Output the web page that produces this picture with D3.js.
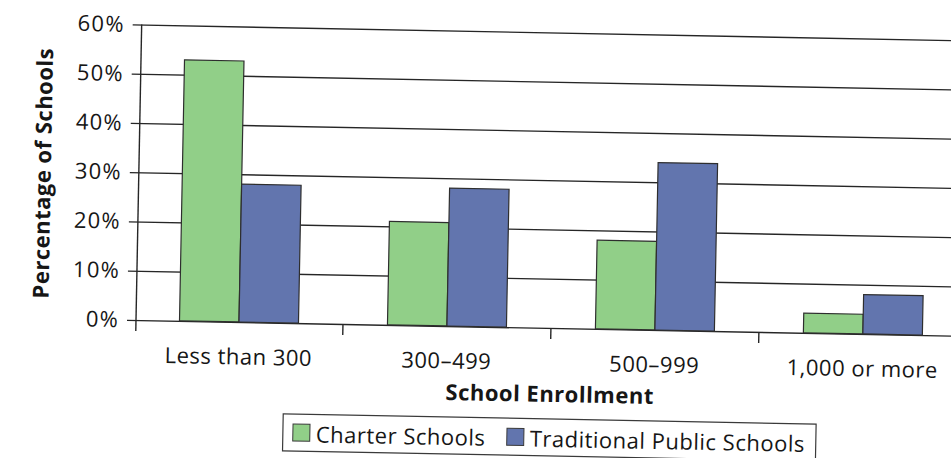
<!DOCTYPE html>
<html>
<head>
<meta charset="utf-8">
<script src="https://cdn.jsdelivr.net/npm/d3@7/dist/d3.min.js"></script>
<style>
  html, body { margin: 0; padding: 0; background: #fff; }
  svg { display: block; }
  text { font-family: "Open Sans", "Noto Sans", sans-serif; fill: #161616; font-size: 22px; letter-spacing: 0.5px; }
</style>
</head>
<body>
<svg id="chart" width="951" height="458"></svg>
<script>
// Enrollment size bands
const categories = ["Less than 300", "300\u2013499", "500\u2013999", "1,000 or more"];
// Series names
const seriesNames = ["Charter Schools", "Traditional Public Schools"];
// Percentage of schools in each band
const charterValues = [53, 21, 18, 4];
const traditionalValues = [28, 28, 34, 8];
// Y axis ticks (percent)
const yTicks = [0, 10, 20, 30, 40, 50, 60];

const colors = { "Charter Schools": "#91cf88", "Traditional Public Schools": "#6275ae" };
const ink = "#262626";

const rows = categories.map((c, i) => ({
  category: c,
  values: [
    { key: seriesNames[0], value: charterValues[i] },
    { key: seriesNames[1], value: traditionalValues[i] }
  ]
}));

const svg = d3.select("#chart");
// whole figure sits at a slight tilt
const g = svg.append("g").attr("transform", "rotate(1.1, 136, 320)");

const x0 = d3.scaleBand().domain(categories).range([135, 967]).padding(0);
const x1 = d3.scaleBand().domain(seriesNames).range([0, x0.bandwidth()])
  .paddingInner(0).paddingOuter(0.748);
const y = d3.scaleLinear().domain([0, 60]).range([320, 24.5]);

// horizontal gridlines with tick labels
const yAxis = d3.axisLeft(y).tickValues(yTicks)
  .tickFormat(d => d + "%")
  .tickSize(-(975 - 127)).tickPadding(6);
const ya = g.append("g").attr("transform", "translate(127,0)").call(yAxis);
ya.select(".domain").remove();
ya.attr("font-family", null).attr("font-size", null);
ya.selectAll(".tick line").attr("stroke", ink).attr("stroke-width", 1.4);
ya.selectAll(".tick text")
  .attr("x", -8)
  .style("letter-spacing", "1.2px")
  .attr("fill", "#161616");

// vertical axis line
g.append("line")
  .attr("x1", 136).attr("x2", 136)
  .attr("y1", y(60)).attr("y2", y(0) + 11)
  .attr("stroke", ink).attr("stroke-width", 1.4);

// category axis: ticks between bands, labels centred
const xAxis = d3.axisBottom(x0).tickSize(0).tickPadding(0);
const xa = g.append("g").attr("transform", `translate(0,${y(0)})`).call(xAxis);
xa.select(".domain").remove();
xa.attr("font-family", null).attr("font-size", null);
xa.selectAll(".tick text")
  .attr("y", 42.5)
  .attr("dy", "0")
  .attr("fill", "#161616");

g.selectAll(".sep")
  .data(categories.slice(1))
  .join("line")
  .attr("class", "sep")
  .attr("x1", d => x0(d)).attr("x2", d => x0(d))
  .attr("y1", y(0)).attr("y2", y(0) + 11)
  .attr("stroke", ink).attr("stroke-width", 1.4);

// bars
const groups = g.selectAll(".grp")
  .data(rows)
  .join("g")
  .attr("class", "grp")
  .attr("transform", d => `translate(${x0(d.category)},0)`);
groups.selectAll("rect")
  .data(d => d.values)
  .join("rect")
  .attr("x", d => x1(d.key))
  .attr("width", x1.bandwidth())
  .attr("y", d => y(d.value))
  .attr("height", d => y(0) - y(d.value))
  .attr("fill", d => colors[d.key])
  .attr("stroke", "#2e2e2e")
  .attr("stroke-width", 1.2);

// axis titles
g.append("text")
  .attr("x", 551).attr("y", 394)
  .attr("text-anchor", "middle")
  .style("font-weight", "bold")
  .text("School Enrollment");
g.append("text")
  .attr("transform", "translate(48,175) rotate(-90)")
  .attr("text-anchor", "middle")
  .style("font-weight", "bold")
  .text("Percentage of Schools");

// legend
const leg = g.append("g");
leg.append("rect")
  .attr("x", 285).attr("y", 411).attr("width", 533).attr("height", 37)
  .attr("fill", "#fff").attr("stroke", "#3a3a3a").attr("stroke-width", 1.2);
const legX = { "Charter Schools": 295, "Traditional Public Schools": 509 };
seriesNames.forEach(name => {
  leg.append("rect")
    .attr("x", legX[name]).attr("y", 421).attr("width", 17).attr("height", 17)
    .attr("fill", colors[name]).attr("stroke", "#3a3a3a").attr("stroke-width", 1);
  leg.append("text")
    .attr("x", legX[name] + 23).attr("y", 439)
    .text(name);
});
</script>
</body>
</html>
